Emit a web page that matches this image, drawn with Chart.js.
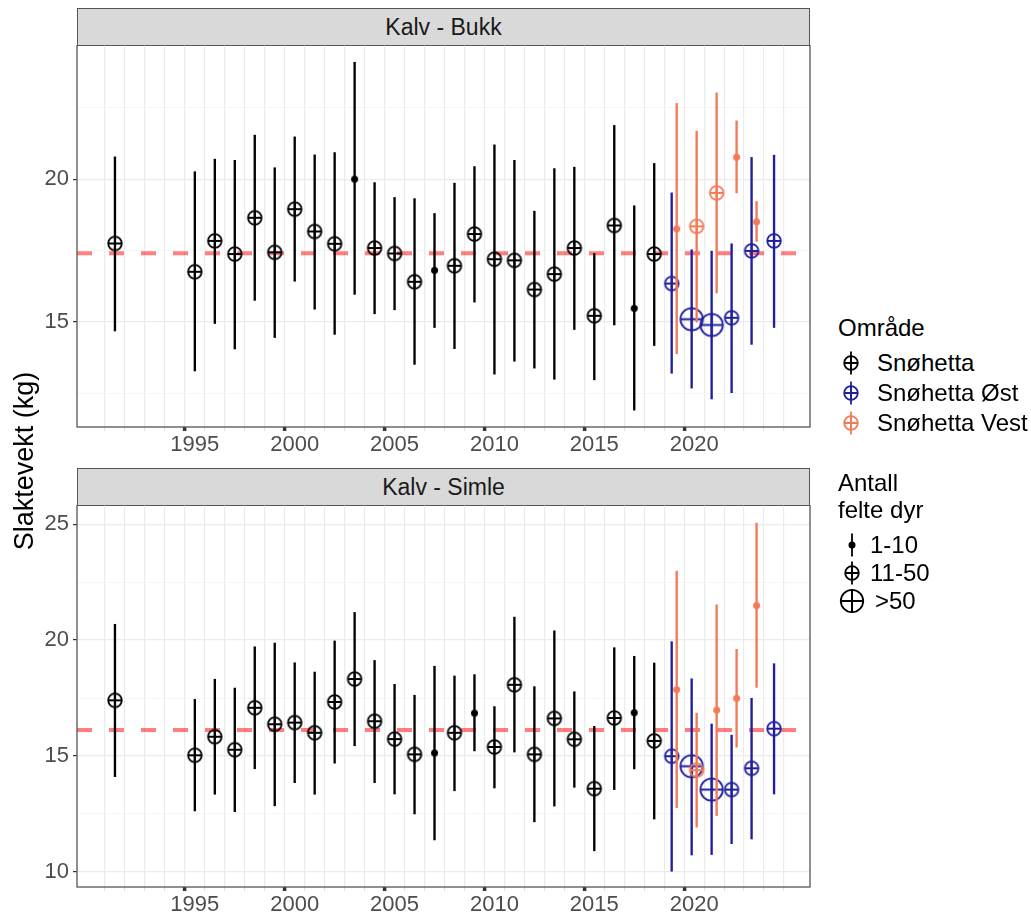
<!DOCTYPE html>
<html>
<head>
<meta charset="utf-8">
<script src="https://cdn.jsdelivr.net/npm/chart.js@4.4.1/dist/chart.umd.min.js"></script>
<style>
  body { margin: 0; background: #fff; font-family: "Liberation Sans", Arial, sans-serif; }
  #wrap { position: relative; width: 1031px; height: 918px; overflow: hidden; }
  .strip { position: absolute; left: 77px; width: 733px; height: 38px; box-sizing: border-box;
           background: #d9d9d9; border: 1.3px solid #555; color: #1a1a1a; font-size: 23px;
           line-height: 36px; text-align: center; }
  .panel { position: absolute; left: 0; }
  #ytitle { position: absolute; left: -126px; top: 446px; width: 300px; height: 30px; line-height: 30px;
            text-align: center; font-size: 27px; color: #000; transform: rotate(-90deg); }
  .lg { position: absolute; font-size: 24px; line-height: 28px; height: 28px; color: #000; white-space: nowrap; }
  .key { position: absolute; }
</style>
</head>
<body>
<div id="wrap">
  <div class="strip" style="top:8px">Kalv - Bukk</div>
  <div class="strip" style="top:468px">Kalv - Simle</div>
  <canvas id="bukk" class="panel" width="815" height="417" style="top:45px"></canvas>
  <canvas id="simle" class="panel" width="815" height="417" style="top:505px"></canvas>
  <div id="ytitle">Slaktevekt (kg)</div>
  <div id="legend"></div>
</div>
<script>
// x axis
const X_MIN = 1989.1;
const X_MAX = 2025.8;
const GRID_YEARS = [];
for (let y = 1991; y <= 2024; y++) GRID_YEARS.push(y);

// Kalv - Bukk
const BUKK_REF = 17.41;
const BUKK_SNO_YEARS = [1991, 1995, 1996, 1997, 1998, 1999, 2000, 2001, 2002, 2003, 2004, 2005, 2006, 2007, 2008, 2009, 2010, 2011, 2012, 2013, 2014, 2015, 2016, 2017, 2018];
const BUKK_SNO_MEAN = [17.75, 16.76, 17.84, 17.38, 18.65, 17.44, 18.95, 18.17, 17.74, 20.0, 17.59, 17.40, 16.41, 16.81, 16.97, 18.08, 17.20, 17.16, 16.14, 16.68, 17.59, 15.22, 18.38, 15.48, 17.38];
const BUKK_SNO_LO = [14.69, 13.29, 14.95, 14.06, 15.76, 14.46, 16.43, 15.45, 14.57, 15.97, 15.29, 15.43, 13.52, 14.81, 14.07, 15.70, 13.18, 13.63, 13.39, 13.00, 14.74, 12.98, 14.90, 11.92, 14.18];
const BUKK_SNO_HI = [20.78, 20.26, 20.70, 20.66, 21.54, 20.40, 21.48, 20.85, 20.93, 24.09, 19.88, 19.36, 19.32, 18.80, 19.86, 20.44, 21.20, 20.66, 18.88, 20.37, 20.42, 17.40, 21.88, 19.07, 20.55];
const BUKK_SNO_N = [2, 2, 2, 2, 2, 2, 2, 2, 2, 1, 2, 2, 2, 1, 2, 2, 2, 2, 2, 2, 2, 2, 2, 1, 2];
const BUKK_OST_YEARS = [2019, 2020, 2021, 2022, 2023, 2024];
const BUKK_OST_MEAN = [16.35, 15.10, 14.90, 15.15, 17.49, 17.84];
const BUKK_OST_LO = [13.21, 12.69, 12.31, 12.53, 14.22, 14.81];
const BUKK_OST_HI = [19.52, 17.53, 17.48, 17.74, 20.76, 20.84];
const BUKK_OST_N = [2, 3, 3, 2, 2, 2];
const BUKK_VEST_YEARS = [2019, 2020, 2021, 2022, 2023];
const BUKK_VEST_MEAN = [18.26, 18.35, 19.52, 20.77, 18.51];
const BUKK_VEST_LO = [13.89, 15.00, 16.02, 19.52, 17.82];
const BUKK_VEST_HI = [22.65, 21.68, 23.02, 22.04, 19.22];
const BUKK_VEST_N = [1, 2, 2, 1, 1];

// Kalv - Simle
const SIMLE_REF = 16.12;
const SIMLE_SNO_YEARS = BUKK_SNO_YEARS;
const SIMLE_SNO_MEAN = [17.40, 15.03, 15.83, 15.27, 17.08, 16.37, 16.44, 16.00, 17.33, 18.32, 16.50, 15.73, 15.07, 15.13, 16.00, 16.85, 15.39, 18.07, 15.07, 16.62, 15.72, 13.59, 16.64, 16.87, 15.65];
const SIMLE_SNO_LO = [14.11, 12.63, 13.35, 12.60, 14.45, 12.85, 13.85, 13.35, 14.69, 15.44, 13.85, 13.36, 12.50, 11.38, 13.50, 15.22, 13.62, 15.17, 12.16, 12.84, 13.65, 10.91, 13.55, 14.44, 12.28];
const SIMLE_SNO_HI = [20.68, 17.44, 18.31, 17.93, 19.71, 19.87, 19.02, 18.62, 19.96, 21.19, 19.12, 18.09, 17.62, 18.87, 18.45, 18.51, 17.13, 20.99, 17.99, 20.40, 17.77, 16.28, 19.67, 19.30, 19.01];
const SIMLE_SNO_N = [2, 2, 2, 2, 2, 2, 2, 2, 2, 2, 2, 2, 2, 1, 2, 1, 2, 2, 2, 2, 2, 2, 2, 1, 2];
const SIMLE_OST_YEARS = [2019, 2020, 2021, 2022, 2023, 2024];
const SIMLE_OST_MEAN = [14.99, 14.56, 13.55, 13.55, 14.47, 16.18];
const SIMLE_OST_LO = [10.03, 10.73, 10.75, 11.22, 11.42, 13.36];
const SIMLE_OST_HI = [19.93, 18.33, 16.38, 15.90, 17.49, 18.98];
const SIMLE_OST_N = [2, 3, 3, 2, 2, 2];
const SIMLE_VEST_YEARS = [2019, 2020, 2021, 2022, 2023];
const SIMLE_VEST_MEAN = [17.86, 14.39, 16.98, 17.49, 21.49];
const SIMLE_VEST_LO = [12.77, 11.93, 12.43, 15.38, 17.96];
const SIMLE_VEST_HI = [22.97, 16.85, 21.52, 19.60, 25.04];
const SIMLE_VEST_N = [1, 2, 1, 1, 1];

const AREAS = ["Snøhetta", "Snøhetta Øst", "Snøhetta Vest"];
const AREA_COLORS = ["#000000", "#1f1f9e", "#f27a57"];
const SIZE_LABELS = ["1-10", "11-50", ">50"];
const DODGE = 0.125;

Chart.defaults.font.family = '"Liberation Sans", Arial, sans-serif';

// circle with a plus inside; size 1 is just a dot
const RADIUS = { 1: 3.5, 2: 6.8, 3: 11.2 };
function drawMarker(ctx, x, y, color, size) {
  const r = RADIUS[size];
  ctx.save();
  ctx.strokeStyle = color;
  ctx.fillStyle = color;
  ctx.lineWidth = 1.8;
  ctx.beginPath();
  ctx.arc(x, y, r, 0, Math.PI * 2);
  if (size === 1) {
    ctx.fill();
  } else {
    ctx.stroke();
    ctx.beginPath();
    ctx.moveTo(x - r, y); ctx.lineTo(x + r, y);
    ctx.moveTo(x, y - r); ctx.lineTo(x, y + r);
    ctx.stroke();
  }
  ctx.restore();
}
const icons = {};
function icon(color, size) {
  const k = color + size;
  if (!icons[k]) {
    const s = Math.ceil(RADIUS[size] * 2 + 4);
    const c = document.createElement("canvas");
    c.width = s; c.height = s;
    drawMarker(c.getContext("2d"), s / 2, s / 2, color, size);
    icons[k] = c;
  }
  return icons[k];
}

const panelBox = {
  id: "panelBox",
  afterDraw(chart) {
    const { ctx, chartArea: a } = chart;
    ctx.save();
    ctx.strokeStyle = "#555";
    ctx.lineWidth = 1.3;
    ctx.strokeRect(a.left, a.top, a.right - a.left, a.bottom - a.top);
    ctx.restore();
  }
};

function makePanel(id, groups, ref, yMin, yMax, yTicks) {
  const datasets = [{
    type: "line",
    data: [{ x: X_MIN, y: ref }, { x: X_MAX, y: ref }],
    borderColor: "rgba(255,0,0,0.5)",
    borderWidth: 4,
    borderDash: [15, 17],
    pointRadius: 0,
    pointHoverRadius: 0,
    order: 10
  }];
  groups.forEach((g, gi) => {
    const xs = g.years.map(yr => {
      if (gi === 0) return yr;
      const other = groups[gi === 1 ? 2 : 1];
      if (!other.years.includes(yr)) return yr;
      return gi === 1 ? yr - DODGE : yr + DODGE;
    });
    const color = AREA_COLORS[gi];
    datasets.push({
      type: "bar",
      data: xs.map((x, i) => ({ x, y: [g.lo[i], g.hi[i]] })),
      backgroundColor: color,
      borderWidth: 0,
      barThickness: 1.7,
      grouped: false,
      order: 6 - gi * 2
    });
    datasets.push({
      type: "scatter",
      data: xs.map((x, i) => ({ x, y: g.mean[i] })),
      pointStyle: ctx => icon(color, g.n[ctx.dataIndex]),
      pointRadius: 0.1,
      pointHoverRadius: 0,
      pointBorderWidth: 0,
      order: 5 - gi * 2
    });
  });

  new Chart(document.getElementById(id), {
    type: "scatter",
    data: { datasets },
    options: {
      responsive: false,
      animation: false,
      events: [],
      layout: { padding: { left: 0, right: 5, top: 0, bottom: 0 } },
      plugins: { legend: { display: false }, tooltip: { enabled: false } },
      scales: {
        x: {
          type: "linear",
          min: X_MIN,
          max: X_MAX,
          offset: false,
          afterBuildTicks: ax => { ax.ticks = GRID_YEARS.map(v => ({ value: v })); },
          afterFit: ax => { ax.height = 35; ax.paddingLeft = 0; ax.paddingRight = 0; },
          ticks: {
            autoSkip: false,
            maxRotation: 0,
            color: "#4d4d4d",
            font: { size: 22 },
            padding: 1,
            callback: v => (v % 5 === 0 ? String(v) : "")
          },
          grid: {
            color: "#ebebeb",
            lineWidth: 1.2,
            tickLength: 4,
            tickColor: c => (c.tick && c.tick.value % 5 === 0 ? "#333" : "#e3e3e3"),
            tickWidth: c => (c.tick && c.tick.value % 5 === 0 ? 3.5 : 1.2)
          },
          border: { display: false }
        },
        y: {
          min: yMin,
          max: yMax,
          afterBuildTicks: ax => { ax.ticks = yTicks.map(v => ({ value: v })); },
          afterFit: ax => { ax.width = 77; ax.paddingTop = 0; ax.paddingBottom = 0; },
          ticks: {
            color: "#4d4d4d",
            font: { size: 22 },
            padding: 4,
            callback: v => (v % 5 === 0 ? String(v) : "")
          },
          grid: {
            color: c => (c.tick && c.tick.value % 5 === 0 ? "#ebebeb" : "#f3f3f3"),
            lineWidth: c => (c.tick && c.tick.value % 5 === 0 ? 1.2 : 0.8),
            tickLength: 4,
            tickColor: c => (c.tick && c.tick.value % 5 === 0 ? "#333" : "rgba(0,0,0,0)")
          },
          border: { display: false }
        }
      }
    },
    plugins: [panelBox]
  });
}

makePanel("bukk", [
  { years: BUKK_SNO_YEARS, mean: BUKK_SNO_MEAN, lo: BUKK_SNO_LO, hi: BUKK_SNO_HI, n: BUKK_SNO_N },
  { years: BUKK_OST_YEARS, mean: BUKK_OST_MEAN, lo: BUKK_OST_LO, hi: BUKK_OST_HI, n: BUKK_OST_N },
  { years: BUKK_VEST_YEARS, mean: BUKK_VEST_MEAN, lo: BUKK_VEST_LO, hi: BUKK_VEST_HI, n: BUKK_VEST_N }
], BUKK_REF, 11.33, 24.69, [12.5, 15, 17.5, 20, 22.5]);

makePanel("simle", [
  { years: SIMLE_SNO_YEARS, mean: SIMLE_SNO_MEAN, lo: SIMLE_SNO_LO, hi: SIMLE_SNO_HI, n: SIMLE_SNO_N },
  { years: SIMLE_OST_YEARS, mean: SIMLE_OST_MEAN, lo: SIMLE_OST_LO, hi: SIMLE_OST_HI, n: SIMLE_OST_N },
  { years: SIMLE_VEST_YEARS, mean: SIMLE_VEST_MEAN, lo: SIMLE_VEST_LO, hi: SIMLE_VEST_HI, n: SIMLE_VEST_N }
], SIMLE_REF, 9.35, 25.82, [10, 12.5, 15, 17.5, 20, 22.5, 25]);

// legend (text as html, keys on small canvases)
const legend = document.getElementById("legend");
function addText(txt, left, cy) {
  const d = document.createElement("div");
  d.className = "lg";
  d.textContent = txt;
  d.style.left = left + "px";
  d.style.top = (cy - 14) + "px";
  legend.appendChild(d);
}
function addKey(cx, cy, color, size) {
  const c = document.createElement("canvas");
  c.width = 32; c.height = 32;
  c.className = "key";
  c.style.left = (cx - 16) + "px";
  c.style.top = (cy - 16) + "px";
  const ctx = c.getContext("2d");
  ctx.strokeStyle = color;
  ctx.lineWidth = 1.8;
  ctx.beginPath();
  ctx.moveTo(16, 16 - Math.max(11.5, RADIUS[size]));
  ctx.lineTo(16, 16 + Math.max(11.5, RADIUS[size]));
  ctx.stroke();
  drawMarker(ctx, 16, 16, color, size);
  legend.appendChild(c);
}
addText("Område", 838, 328);
AREAS.forEach((a, i) => {
  addKey(851, 363 + i * 30, AREA_COLORS[i], 2);
  addText(a, 877, 363 + i * 30);
});
addText("Antall", 838, 483);
addText("felte dyr", 838, 510);
SIZE_LABELS.forEach((s, i) => {
  addKey(852, 545 + i * 28, "#000000", i + 1);
  addText(s, i === 2 ? 875 : 870, 545 + i * 28);
});
</script>
</body>
</html>
